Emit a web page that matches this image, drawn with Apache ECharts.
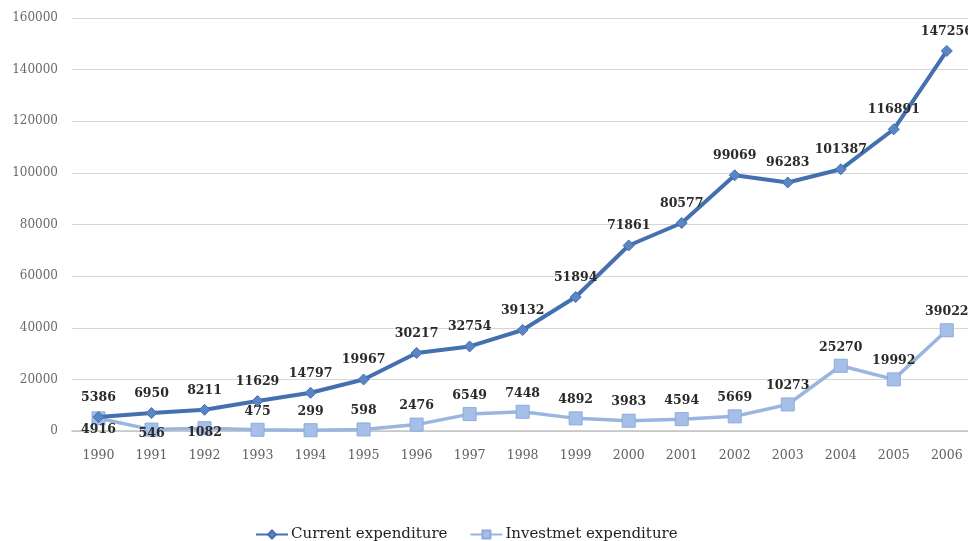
<!DOCTYPE html>
<html>
<head>
<meta charset="utf-8">
<script src="https://cdn.jsdelivr.net/npm/echarts@6/dist/echarts.min.js"></script>
<style>
  html, body { margin: 0; padding: 0; background: #fff; }
  #chart { width: 968px; height: 541px; }
</style>
</head>
<body>
<div id="chart"></div>
<script>
// Years on the horizontal axis
const years = ['1990','1991','1992','1993','1994','1995','1996','1997','1998',
               '1999','2000','2001','2002','2003','2004','2005','2006'];

// Current expenditure per year
const currentExpenditure = [5386, 6950, 8211, 11629, 14797, 19967, 30217, 32754, 39132,
                            51894, 71861, 80577, 99069, 96283, 101387, 116891, 147256];

// Investment expenditure per year
const investmentExpenditure = [4916, 546, 1082, 475, 299, 598, 2476, 6549, 7448,
                               4892, 3983, 4594, 5669, 10273, 25270, 19992, 39022];

// Value axis ticks
const yTicks = [0, 20000, 40000, 60000, 80000, 100000, 120000, 140000, 160000];

const serif = '"DejaVu Serif", "Liberation Serif", serif';

// Each year sits at its index on a numeric x axis
const yearIndex = years.map((_, i) => i);

// Labels for the first investment points sit lower so they clear the other line
const investLabelOffsets = { 0: [0, 30], 1: [0, 23], 2: [0, 23] };

const currentData = currentExpenditure.map((v, i) => [yearIndex[i], v]);
const investData = investmentExpenditure.map((v, i) => {
  const item = { value: [yearIndex[i], v] };
  if (investLabelOffsets[i]) {
    item.label = { offset: investLabelOffsets[i] };
  }
  return item;
});

const chart = echarts.init(document.getElementById('chart'));

chart.setOption({
  backgroundColor: '#ffffff',
  animation: false,
  grid: { left: 72, top: 18, right: 0, height: 413, containLabel: false },
  legend: {
    top: 522,
    left: 250,
    itemGap: 22,
    itemWidth: 32,
    itemHeight: 10,
    textStyle: { fontFamily: serif, fontSize: 15, color: '#222', padding: [0, 0, 0, -2] },
    data: ['Current expenditure', 'Investmet expenditure']
  },
  xAxis: {
    type: 'value',
    // half a year of room on the left; the last year runs near the right edge
    min: -0.5,
    max: 16.4,
    axisLine: { show: true, onZero: false, lineStyle: { color: '#c4c4c4', width: 1.5 } },
    axisTick: { show: false },
    splitLine: { show: false },
    axisLabel: {
      customValues: yearIndex,
      fontFamily: serif,
      fontSize: 12.5,
      color: '#606060',
      margin: 18,
      formatter: (v) => years[Math.round(v)]
    }
  },
  yAxis: {
    type: 'value',
    min: yTicks[0],
    max: yTicks[yTicks.length - 1],
    interval: yTicks[1] - yTicks[0],
    axisLine: { show: false },
    axisTick: { show: false },
    splitLine: { lineStyle: { color: '#d6d6d6', width: 1.2 } },
    axisLabel: {
      fontFamily: serif,
      fontSize: 12,
      color: '#6a6a6a',
      margin: 14,
      formatter: (v) => String(v)
    }
  },
  series: [
    {
      name: 'Current expenditure',
      type: 'line',
      data: currentData,
      symbol: 'diamond',
      symbolSize: 11,
      lineStyle: { color: '#4470b0', width: 4 },
      itemStyle: { color: '#5b86c4', borderColor: '#4470b0', borderWidth: 1 },
      label: {
        show: true,
        position: 'top',
        distance: 7,
        fontFamily: serif,
        fontWeight: 'bold',
        fontSize: 12.5,
        color: '#2a2a2a',
        formatter: (p) => String(p.value[1])
      },
      z: 3
    },
    {
      name: 'Investmet expenditure',
      type: 'line',
      data: investData,
      symbol: 'rect',
      symbolSize: 13,
      lineStyle: { color: '#9ab5e0', width: 3.5 },
      itemStyle: { color: '#a5bfe8', borderColor: '#8eaadb', borderWidth: 1 },
      label: {
        show: true,
        position: 'top',
        distance: 5,
        fontFamily: serif,
        fontWeight: 'bold',
        fontSize: 12.5,
        color: '#2a2a2a',
        formatter: (p) => String(p.value[1])
      },
      z: 2
    }
  ]
});
</script>
</body>
</html>
